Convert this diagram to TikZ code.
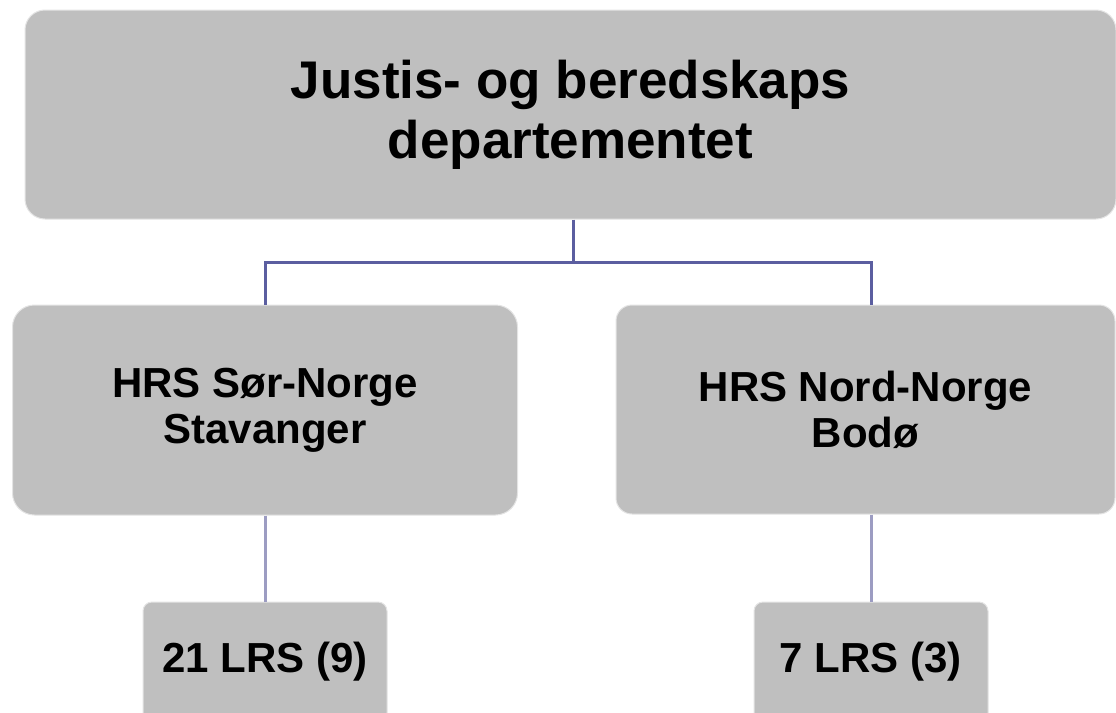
\documentclass[tikz,border=0pt]{standalone}
\usepackage{fontspec}
\setmainfont{Liberation Sans}
\begin{document}
\begin{tikzpicture}[x=1pt,y=-1pt,
  box/.style={fill=boxgray,draw=boxedge,line width=1pt,inner sep=0pt,align=center,font=\bfseries},
  topconn/.style={draw=linedark,line width=3pt},
  lowconn/.style={draw=linelight,line width=3pt}]
\definecolor{boxgray}{HTML}{BFBFBF}
\definecolor{boxedge}{HTML}{E4E4E4}
\definecolor{linedark}{HTML}{5B5EA0}
\definecolor{linelight}{HTML}{9C9CC2}
\useasboundingbox (0,0) rectangle (1116,712);
\begin{scope}
\clip (0,0) rectangle (1116,712);
\node[box,rounded corners=20pt,minimum width=1091pt,minimum height=209pt,
  font=\bfseries\fontsize{53}{60}\selectfont] (top) at (570.5,114.5)
  {Justis- og beredskaps\\departementet};
\node[box,rounded corners=22pt,minimum width=505pt,minimum height=210pt,
  font=\bfseries\fontsize{42}{46}\selectfont] (sor) at (265,410)
  {HRS Sør-Norge\\Stavanger};
\node[box,rounded corners=16pt,minimum width=499pt,minimum height=209pt,
  font=\bfseries\fontsize{42}{46}\selectfont] (nord) at (865.5,409.5)
  {HRS Nord-Norge\\Bodø};
\node[box,rounded corners=9pt,minimum width=244pt,minimum height=120pt,
  font=\bfseries\fontsize{42}{46}\selectfont] (lrsA) at (265,662)
  {21 LRS (9)};
\node[box,rounded corners=9pt,minimum width=234pt,minimum height=120pt,
  font=\bfseries\fontsize{42}{46}\selectfont] (lrsB) at (871,662)
  {7 LRS (3)};
\end{scope}
\coordinate (mid) at (573,262);
\draw[topconn] (top.south -| mid) -- (mid);
\draw[topconn] (sor.north) -- (sor.north |- mid) -- (lrsB.north |- mid) -- (lrsB.north |- nord.north);
\draw[lowconn] (sor.south) -- (lrsA.north);
\draw[lowconn] (lrsB.north |- nord.south) -- (lrsB.north);
\end{tikzpicture}
\end{document}
